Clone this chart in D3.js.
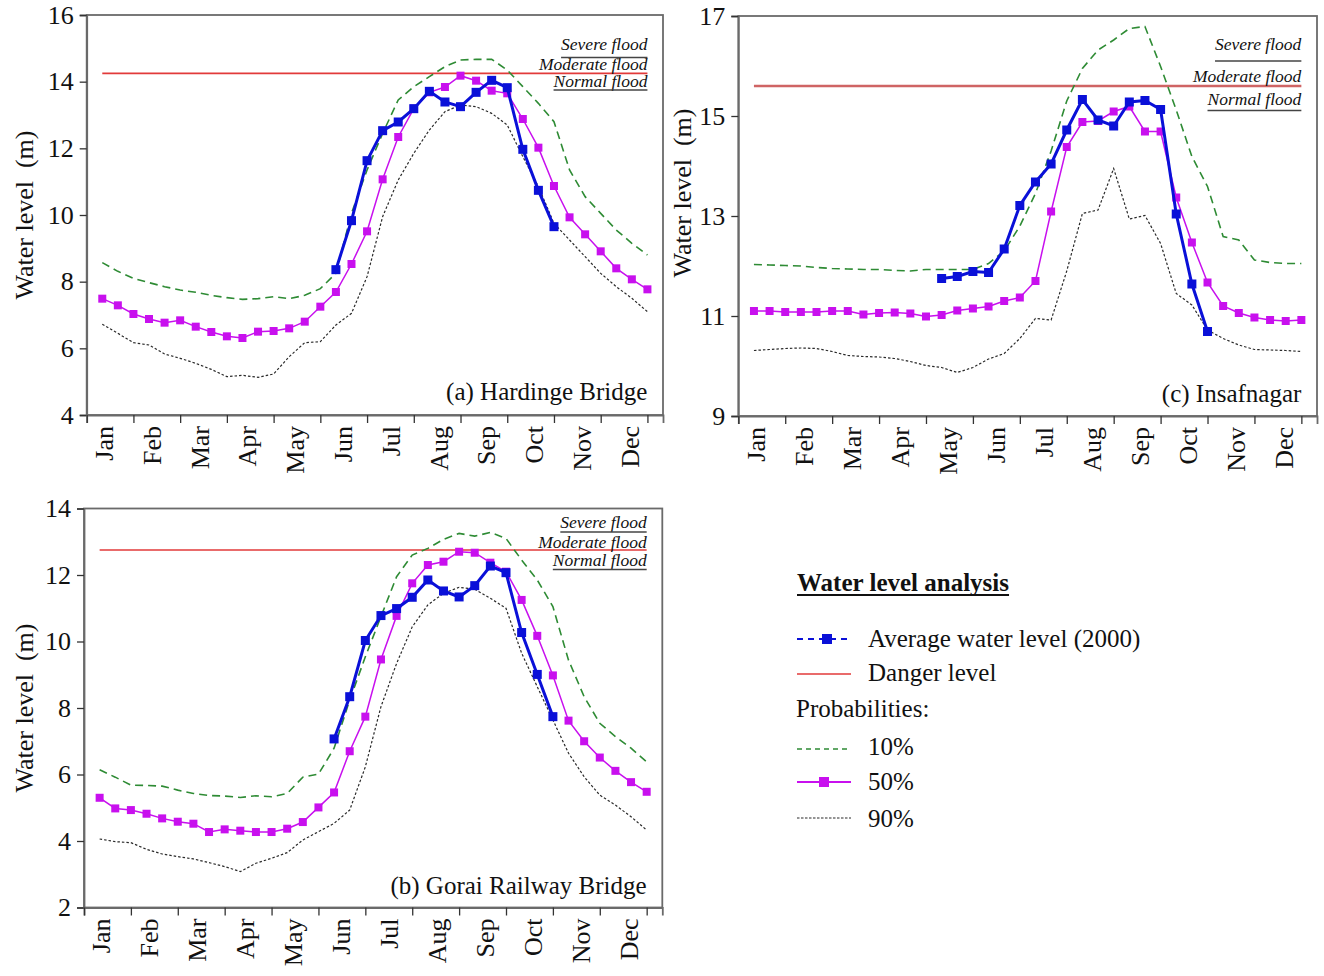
<!DOCTYPE html>
<html>
<head>
<meta charset="utf-8">
<script src="https://cdn.jsdelivr.net/npm/d3@7"></script>
<style>
  html, body { margin: 0; padding: 0; background: #fff; }
  svg { display: block; }
  text { font-family: "Liberation Serif", "Times New Roman", serif; fill: #111; }
</style>
</head>
<body>
<svg id="chart" width="1324" height="976"></svg>
<script>
// ---------------- DATA ----------------
const months = ["Jan","Feb","Mar","Apr","May","Jun","Jul","Aug","Sep","Oct","Nov","Dec"];

// (a) Hardinge Bridge – 36 dekads
const p10A = [8.57,8.31,8.10,7.97,7.85,7.75,7.68,7.59,7.52,7.47,7.49,7.55,7.49,7.59,7.79,8.25,10.05,11.35,12.45,13.45,13.85,14.15,14.45,14.65,14.67,14.67,14.35,13.85,13.35,12.80,11.35,10.55,10.05,9.55,9.15,8.80];
const p50A = [7.49,7.29,7.03,6.88,6.77,6.84,6.65,6.49,6.36,6.31,6.50,6.52,6.60,6.80,7.25,7.69,8.53,9.51,11.07,12.34,13.19,13.68,13.84,14.18,14.03,13.73,13.65,12.88,12.02,10.87,9.93,9.42,8.91,8.40,8.07,7.77];
const p90A = [6.72,6.45,6.17,6.10,5.83,5.70,5.55,5.37,5.15,5.19,5.13,5.23,5.75,6.17,6.20,6.70,7.05,8.15,9.95,11.05,11.85,12.55,13.10,13.30,13.25,13.05,12.70,11.75,10.85,9.75,9.25,8.75,8.25,7.85,7.50,7.10];
const obsA = [null,null,null,null,null,null,null,null,null,null,null,null,null,null,null,8.36,9.83,11.63,12.53,12.79,13.19,13.71,13.39,13.25,13.68,14.04,13.82,11.97,10.74,9.65,null,null,null,null,null,null];
const dangerA = 14.25;

// (b) Gorai Railway Bridge
const p10B = [6.14,5.92,5.68,5.67,5.65,5.53,5.43,5.37,5.35,5.31,5.36,5.33,5.43,5.92,6.01,6.79,8.24,9.54,10.75,11.95,12.60,12.80,13.07,13.25,13.17,13.28,13.10,12.45,11.85,11.05,9.44,8.34,7.54,7.14,6.79,6.38];
const p50B = [5.30,4.98,4.93,4.82,4.68,4.58,4.52,4.27,4.35,4.31,4.27,4.27,4.37,4.57,5.01,5.46,6.70,7.74,9.46,10.77,11.75,12.30,12.40,12.70,12.67,12.37,12.10,11.25,10.17,8.98,7.62,7.00,6.51,6.11,5.77,5.48];
const p90B = [4.06,3.98,3.95,3.75,3.61,3.53,3.46,3.35,3.23,3.08,3.33,3.48,3.65,4.03,4.28,4.53,4.93,6.23,8.04,9.34,10.44,11.10,11.45,11.63,11.57,11.30,11.00,9.65,8.64,7.64,6.64,5.93,5.38,5.08,4.73,4.33];
const obsB = [null,null,null,null,null,null,null,null,null,null,null,null,null,null,null,7.07,8.34,10.03,10.78,10.99,11.33,11.85,11.52,11.34,11.68,12.27,12.07,10.27,9.01,7.74,null,null,null,null,null,null];
const dangerB = 12.75;

// (c) Insafnagar
const p10C = [12.03,12.02,12.01,12.00,11.97,11.95,11.94,11.93,11.93,11.91,11.90,11.93,11.93,11.93,11.93,12.05,12.30,12.80,13.45,14.30,15.30,15.95,16.32,16.52,16.75,16.79,15.99,15.12,14.19,13.59,12.59,12.52,12.12,12.07,12.05,12.05];
const p50C = [11.10,11.10,11.08,11.08,11.08,11.10,11.10,11.03,11.06,11.07,11.05,10.99,11.02,11.11,11.15,11.19,11.30,11.37,11.70,13.09,14.38,14.88,14.90,15.09,15.19,14.69,14.69,13.37,12.47,11.67,11.20,11.06,10.97,10.92,10.90,10.92];
const p90C = [10.31,10.33,10.35,10.36,10.35,10.29,10.21,10.19,10.18,10.15,10.09,10.01,9.97,9.87,9.97,10.14,10.25,10.55,10.95,10.92,11.90,13.05,13.12,13.95,12.94,13.01,12.45,11.45,11.22,10.72,10.55,10.42,10.33,10.32,10.31,10.29];
const obsC = [null,null,null,null,null,null,null,null,null,null,null,null,11.75,11.79,11.89,11.87,12.34,13.21,13.68,14.04,14.72,15.33,14.92,14.80,15.28,15.31,15.13,13.04,11.64,10.69,null,null,null,null,null,null];
const dangerC = 15.6;

const ticksA = [4,6,8,10,12,14,16];
const ticksB = [2,4,6,8,10,12,14];
const ticksC = [9,11,13,15,17];

const floodLabels = ["Severe flood","Moderate flood","Normal flood"];
const legendTitle = "Water level analysis";
const legendItems = ["Average water level (2000)","Danger level","Probabilities:","10%","50%","90%"];

// ---------------- STYLE / LAYOUT ----------------
const C = {
  blue: "#0a10d8", magenta: "#c810ee", green: "#2e8b34", black: "#2a2a2a", red: "#e23a3a", redC: "#cf6464", frame: "#6a6a6a"
};

const panels = [
  { title: "(a) Hardinge Bridge", p10: p10A, p50: p50A, p90: p90A, obs: obsA, danger: dangerA,
    yDomain: [4,16], yTicks: ticksA, box: {l: 86.7, r: 663, t: 15, b: 415},
    yTitle: {x: 33, y: 215}, red: C.red, redW: 1.6,
    flood: {base: [49.5, 69.5, 87], lines: [57.5, 90]}, label: {dy: 15} },
  { title: "(b) Gorai Railway Bridge", p10: p10B, p50: p50B, p90: p90B, obs: obsB, danger: dangerB,
    yDomain: [2,14], yTicks: ticksB, box: {l: 84, r: 662.3, t: 508.5, b: 907.5},
    yTitle: {x: 33, y: 708}, red: C.red, redW: 1.6,
    flood: {base: [527.5, 547.5, 566], lines: [532, 569.5]}, label: {dy: 14} },
  { title: "(c) Insafnagar", p10: p10C, p50: p50C, p90: p90C, obs: obsC, danger: dangerC,
    yDomain: [9,17], yTicks: ticksC, box: {l: 738.3, r: 1317, t: 16, b: 416},
    yTitle: {x: 691, y: 193}, red: C.redC, redW: 2.4,
    flood: {base: [50, 82, 105], lines: [61, 110.5]}, label: {dy: 14} }
];

const svg = d3.select("#chart");
svg.append("rect").attr("width", 1324).attr("height", 976).attr("fill", "#fff");

panels.forEach(p => {
  const g = svg.append("g");
  const x = d3.scaleLinear().domain([0, 37]).range([p.box.l, p.box.r]);
  const y = d3.scaleLinear().domain(p.yDomain).range([p.box.b, p.box.t]);
  const idx = d3.range(1, 37);

  // frame
  g.append("rect").attr("x", p.box.l).attr("y", p.box.t)
    .attr("width", p.box.r - p.box.l).attr("height", p.box.b - p.box.t)
    .attr("fill", "none").attr("stroke", C.frame).attr("stroke-width", 1.8);

  // y axis
  const ya = g.append("g").attr("transform", `translate(${p.box.l},0)`)
    .call(d3.axisLeft(y).tickValues(p.yTicks).tickSize(7).tickPadding(6).tickFormat(d3.format("d")));
  ya.attr("font-family", null);
  ya.select(".domain").attr("stroke", C.frame).attr("stroke-width", 1.8);
  ya.selectAll(".tick line").attr("stroke", "#333").attr("stroke-width", 1.3);
  ya.selectAll(".tick text").attr("font-size", 26).attr("fill", "#111");

  // x axis
  const xa = g.append("g").attr("transform", `translate(0,${p.box.b})`)
    .call(d3.axisBottom(x).tickValues(d3.range(0, 37, 3)).tickSize(8).tickFormat(""));
  xa.select(".domain").attr("stroke", C.frame).attr("stroke-width", 1.8);
  xa.selectAll(".tick line").attr("stroke", "#333").attr("stroke-width", 1.3);

  // month labels (rotated)
  g.selectAll(".month").data(months).join("text")
    .attr("transform", (d, k) => `translate(${x(1.1 + k * 3.07)},${p.box.b + 11}) rotate(-90)`)
    .attr("text-anchor", "end").attr("dy", "0.35em")
    .attr("font-size", 26).text(d => d);

  // y title
  g.append("text")
    .attr("transform", `translate(${p.yTitle.x},${p.yTitle.y}) rotate(-90)`)
    .attr("text-anchor", "middle").attr("font-size", 26)
    .style("white-space", "pre")
    .text("Water level  (m)");

  // danger line
  g.append("line").attr("x1", x(1)).attr("x2", x(36))
    .attr("y1", y(p.danger)).attr("y2", y(p.danger))
    .attr("stroke", p.red).attr("stroke-width", p.redW);

  // flood labels
  const fl = g.selectAll(".flood").data(floodLabels).join("text")
    .attr("x", x(36)).attr("y", (d, k) => p.flood.base[k])
    .attr("text-anchor", "end").attr("font-style", "italic").attr("font-size", 17.5)
    .text(d => d);
  const wSev = fl.nodes()[0].getComputedTextLength();
  const wNor = fl.nodes()[2].getComputedTextLength();
  g.append("line").attr("x1", x(36) - wSev).attr("x2", x(36))
    .attr("y1", p.flood.lines[0]).attr("y2", p.flood.lines[0]).attr("stroke", "#444").attr("stroke-width", 1.4);
  g.append("line").attr("x1", x(36) - wNor).attr("x2", x(36))
    .attr("y1", p.flood.lines[1]).attr("y2", p.flood.lines[1]).attr("stroke", "#444").attr("stroke-width", 1.4);

  const line = d3.line().defined(d => d[1] != null).x(d => x(d[0])).y(d => y(d[1]));
  const pts = arr => idx.map((i, k) => [i, arr[k]]);

  // 90% dotted
  g.append("path").attr("d", line(pts(p.p90))).attr("fill", "none")
    .attr("stroke", C.black).attr("stroke-width", 1.2).attr("stroke-dasharray", "2.5,2");
  // 10% dashed
  g.append("path").attr("d", line(pts(p.p10))).attr("fill", "none")
    .attr("stroke", C.green).attr("stroke-width", 1.6).attr("stroke-dasharray", "8,5");
  // 50% magenta with markers
  g.append("path").attr("d", line(pts(p.p50))).attr("fill", "none")
    .attr("stroke", C.magenta).attr("stroke-width", 1.5);
  g.selectAll(".m50").data(pts(p.p50)).join("rect")
    .attr("x", d => x(d[0]) - 4).attr("y", d => y(d[1]) - 4)
    .attr("width", 8).attr("height", 8).attr("fill", C.magenta);
  // observed blue
  const obsPts = pts(p.obs).filter(d => d[1] != null);
  g.append("path").attr("d", line(obsPts)).attr("fill", "none")
    .attr("stroke", C.blue).attr("stroke-width", 3);
  g.selectAll(".mo").data(obsPts).join("rect")
    .attr("x", d => x(d[0]) - 4.5).attr("y", d => y(d[1]) - 4.5)
    .attr("width", 9).attr("height", 9).attr("fill", C.blue);

  // panel label
  g.append("text").attr("x", x(36)).attr("y", p.box.b - p.label.dy)
    .attr("text-anchor", "end").attr("font-size", 25).text(p.title);
});

// ---------------- LEGEND ----------------
const lg = svg.append("g");
const lx0 = 797, lx1 = 851, tx = 868;
const titleT = lg.append("text").attr("x", lx0).attr("y", 591)
  .attr("font-size", 25).attr("font-weight", "bold").text(legendTitle);
const tw = titleT.node().getComputedTextLength();
lg.append("line").attr("x1", lx0).attr("x2", lx0 + tw).attr("y1", 595).attr("y2", 595)
  .attr("stroke", "#111").attr("stroke-width", 1.8);

const rowsY = [647, 681, 717, 755, 790, 827];
lg.selectAll(".li").data(legendItems).join("text")
  .attr("x", (d, k) => k === 2 ? 796 : tx).attr("y", (d, k) => rowsY[k])
  .attr("font-size", 25).text(d => d);

// samples
lg.append("line").attr("x1", lx0).attr("x2", lx1).attr("y1", 639).attr("y2", 639)
  .attr("stroke", C.blue).attr("stroke-width", 2.2).attr("stroke-dasharray", "6,5");
lg.append("rect").attr("x", 822).attr("y", 634).attr("width", 10).attr("height", 10).attr("fill", C.blue);
lg.append("line").attr("x1", lx0).attr("x2", lx1).attr("y1", 674).attr("y2", 674)
  .attr("stroke", C.red).attr("stroke-width", 1.3);
lg.append("line").attr("x1", lx0).attr("x2", lx1).attr("y1", 749).attr("y2", 749)
  .attr("stroke", C.green).attr("stroke-width", 1.4).attr("stroke-dasharray", "5,4");
lg.append("line").attr("x1", lx0).attr("x2", lx1).attr("y1", 782).attr("y2", 782)
  .attr("stroke", C.magenta).attr("stroke-width", 1.8);
lg.append("rect").attr("x", 819).attr("y", 777).attr("width", 10).attr("height", 10).attr("fill", C.magenta);
lg.append("line").attr("x1", lx0).attr("x2", lx1).attr("y1", 818).attr("y2", 818)
  .attr("stroke", C.black).attr("stroke-width", 1.2).attr("stroke-dasharray", "2.5,1.5");
</script>
</body>
</html>
